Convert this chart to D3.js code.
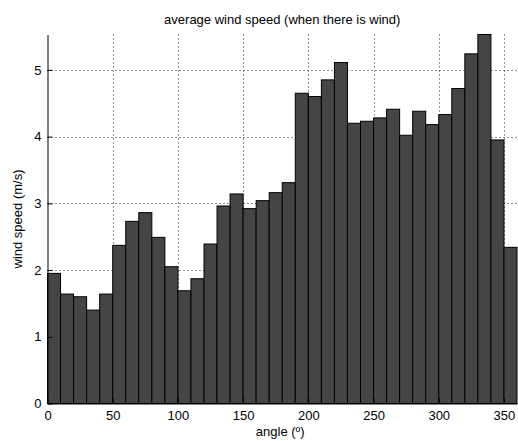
<!DOCTYPE html>
<html>
<head>
<meta charset="utf-8">
<script src="https://cdn.jsdelivr.net/npm/d3@7"></script>
<style>
  html, body { margin: 0; padding: 0; background: #fff; }
  svg { display: block; }
  text { font-family: Arial, "Liberation Sans", Helvetica, sans-serif; fill: #000; }
</style>
</head>
<body>
<script>
// Bin starts (degrees), each bin is 10 degrees wide
const binStarts = d3.range(0, 360, 10);
// Mean wind speed (m/s) per bin
const speeds = [
  1.95, 1.64, 1.60, 1.40, 1.64, 2.37, 2.73, 2.86, 2.49, 2.05,
  1.69, 1.87, 2.39, 2.96, 3.14, 2.92, 3.04, 3.16, 3.31, 4.65,
  4.60, 4.85, 5.11, 4.20, 4.23, 4.28, 4.41, 4.02, 4.38, 4.18,
  4.33, 4.72, 5.24, 5.53, 3.95, 2.34
];
const xTicks = [0, 50, 100, 150, 200, 250, 300, 350];
const yTicks = [0, 1, 2, 3, 4, 5];
const binWidth = 10;

const W = 518, H = 441;
const plot = { left: 47.5, right: 517, top: 34.5, bottom: 403.5 };

const svg = d3.select("body").append("svg")
  .attr("width", W).attr("height", H);

const x = d3.scaleLinear().domain([0, 360]).range([plot.left, plot.right]);
const y = d3.scaleLinear().domain([0, d3.max(speeds)]).range([plot.bottom, plot.top]);

// dotted grid
const grid = svg.append("g")
  .attr("stroke", "#222").attr("stroke-width", 1)
  .attr("stroke-dasharray", "1,3").attr("fill", "none");
grid.selectAll("line.gx").data(xTicks.filter(t => t > 0)).join("line")
  .attr("class", "gx")
  .attr("x1", d => Math.round(x(d)) + 0.5).attr("x2", d => Math.round(x(d)) + 0.5)
  .attr("y1", plot.top).attr("y2", plot.bottom);
grid.selectAll("line.gy").data(yTicks.filter(t => t > 0)).join("line")
  .attr("class", "gy")
  .attr("x1", plot.left).attr("x2", plot.right)
  .attr("y1", d => Math.round(y(d)) + 0.5).attr("y2", d => Math.round(y(d)) + 0.5);

// bars
svg.append("g").selectAll("rect").data(speeds).join("rect")
  .attr("x", (d, i) => x(binStarts[i]))
  .attr("width", (d, i) => x(binStarts[i] + binWidth) - x(binStarts[i]))
  .attr("y", d => y(d))
  .attr("height", d => y(0) - y(d))
  .attr("fill", "#454545")
  .attr("stroke", "#000")
  .attr("stroke-width", 1);

// axes with inward ticks
const xAxis = d3.axisBottom(x).tickValues(xTicks).tickSizeInner(-5).tickSizeOuter(0).tickPadding(10);
const yAxis = d3.axisLeft(y).tickValues(yTicks).tickFormat(d3.format("d")).tickSizeInner(-5).tickSizeOuter(0).tickPadding(10);

const gx = svg.append("g").attr("transform", `translate(0,${plot.bottom})`).call(xAxis);
const gy = svg.append("g").attr("transform", `translate(${plot.left},0)`).call(yAxis);
[gx, gy].forEach(g => {
  g.select(".domain").attr("stroke", "#000").attr("stroke-width", 1);
  g.selectAll(".tick line").attr("stroke", "#000");
  g.selectAll(".tick text").attr("font-size", 13).attr("fill", "#000")
    .attr("font-family", "Arial, 'Liberation Sans', sans-serif");
});
gx.selectAll(".tick text").attr("dy", "0.71em").attr("y", 7);
gy.selectAll(".tick text").attr("x", -6);

// titles
svg.append("text")
  .attr("x", (plot.left + plot.right) / 2).attr("y", 24)
  .attr("text-anchor", "middle").attr("font-size", 13)
  .text("average wind speed (when there is wind)");

svg.append("text")
  .attr("x", (plot.left + plot.right) / 2 - 2).attr("y", 436)
  .attr("text-anchor", "middle").attr("font-size", 13)
  .text("angle (º)");

svg.append("text")
  .attr("transform", `translate(22,${(plot.top + plot.bottom) / 2}) rotate(-90)`)
  .attr("text-anchor", "middle").attr("font-size", 13)
  .text("wind speed (m/s)");
</script>
</body>
</html>
